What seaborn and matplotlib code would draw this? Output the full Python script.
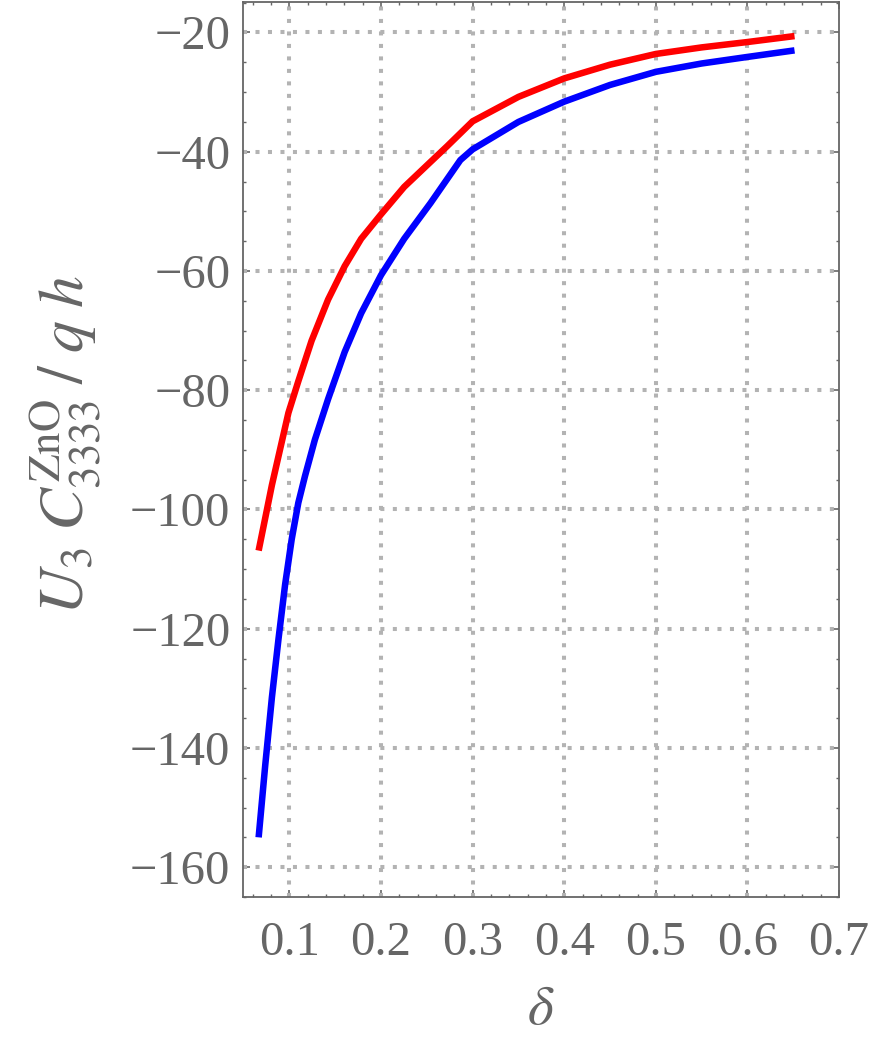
import numpy as np
import pandas as pd
import matplotlib
matplotlib.use("Agg")
import matplotlib.pyplot as plt
import seaborn as sns
from matplotlib.ticker import MultipleLocator

# ---- data ----
delta_red = [0.0664, 0.0809, 0.0989, 0.1097, 0.1242, 0.1422, 0.1603, 0.1783, 0.2000,
             0.2253, 0.2541, 0.2720, 0.3000, 0.3500, 0.4000, 0.4500, 0.5000,
             0.5500, 0.6000, 0.6514]
u_red = [-106.9, -95.9, -83.8, -78.5, -71.7, -64.8, -59.2, -54.6, -50.5,
         -45.9, -41.7, -39.1, -34.9, -30.8, -27.7, -25.4, -23.6,
         -22.5, -21.6, -20.6]

delta_blue = [0.0664, 0.0736, 0.0809, 0.0881, 0.0953, 0.1025, 0.1097, 0.1170, 0.1278,
              0.1422, 0.1603, 0.1783, 0.2000, 0.2253, 0.2541, 0.2866, 0.3000,
              0.3500, 0.4000, 0.4500, 0.5000, 0.5500, 0.6000, 0.6514]
u_blue = [-155.0, -142.9, -131.5, -121.7, -112.6, -105.0, -98.9, -94.4, -88.3,
          -81.5, -73.6, -67.1, -60.7, -54.6, -48.6, -41.4, -39.6,
          -35.0, -31.6, -28.8, -26.6, -25.2, -24.1, -23.0]

x_ticks = [0.1, 0.2, 0.3, 0.4, 0.5, 0.6, 0.7]
y_ticks = [-160, -140, -120, -100, -80, -60, -40, -20]

df = pd.DataFrame({
    "delta": delta_blue + delta_red,
    "U": u_blue + u_red,
    "series": ["blue"] * len(delta_blue) + ["red"] * len(delta_red),
})

sns.set_theme(style="white")
plt.rcParams["font.family"] = ["Liberation Serif", "DejaVu Serif"]
plt.rcParams["mathtext.fontset"] = "stix"

fig = plt.figure(figsize=(8.74, 10.43), dpi=100)
ax = fig.add_axes([0.278, 0.140, 0.682, 0.858])

gray = "#666666"
gridc = "#b3b3b3"

sns.lineplot(data=df, x="delta", y="U", hue="series",
             palette={"blue": "#0000ff", "red": "#ff0000"},
             hue_order=["blue", "red"], sort=False, estimator=None,
             linewidth=4.7, legend=False, ax=ax, zorder=3)
for ln in ax.lines:
    ln.set_solid_capstyle("butt")
    ln.set_solid_joinstyle("round")

ax.set_xlim(0.0493, 0.698)
ax.set_ylim(-165.0, -14.9)

ax.set_xticks(x_ticks)
ax.set_xticklabels([f"{t:.1f}" for t in x_ticks])
ax.set_yticks(y_ticks)
ax.set_yticklabels([f"\u2212{abs(t)}" for t in y_ticks])
ax.xaxis.set_minor_locator(MultipleLocator(0.02))
ax.yaxis.set_minor_locator(MultipleLocator(5))

for xv in x_ticks:
    if xv < 0.698:
        ax.axvline(xv, color=gridc, linewidth=2.9, linestyle=(0, (1.0, 2.1)),
                   dash_capstyle="butt", zorder=1)
for yv in y_ticks:
    ax.axhline(yv, color=gridc, linewidth=2.9, linestyle=(0, (1.0, 2.1)),
               dash_capstyle="butt", zorder=1)

for sp in ax.spines.values():
    sp.set_color(gray)
    sp.set_linewidth(1.3)
    sp.set_visible(True)

ax.tick_params(axis="both", which="both", direction="in", colors=gray,
               top=True, right=True, bottom=True, left=True)
ax.tick_params(axis="both", which="major", length=5, width=1.2, labelsize=35)
ax.tick_params(axis="both", which="minor", length=2.5, width=1.0)
ax.tick_params(axis="x", which="major", pad=17)
ax.tick_params(axis="y", which="major", pad=9)
for lab in ax.get_xticklabels() + ax.get_yticklabels():
    lab.set_color(gray)

ax.set_xlabel(r"$\delta$", fontsize=40, color=gray, labelpad=14)
ax.set_ylabel(r"$U_3\;C^{\mathrm{ZnO}}_{3333}\;/\;q\;h$", fontsize=46,
              color=gray)
ax.yaxis.set_label_coords(-0.235, 0.505)

fig.savefig("out.png", dpi=100)
